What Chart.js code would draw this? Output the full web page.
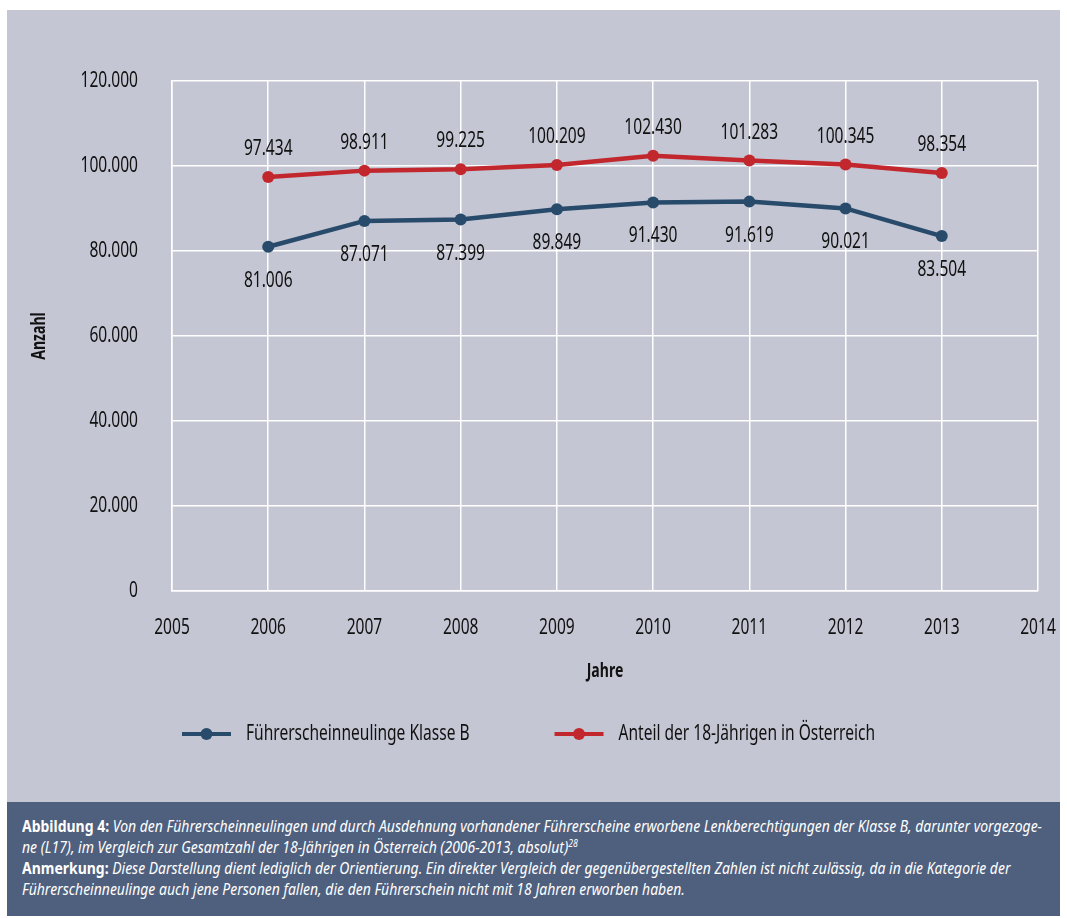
<!DOCTYPE html>
<html><head><meta charset="utf-8">
<script src="https://cdn.jsdelivr.net/npm/chart.js@4.4.1/dist/chart.umd.min.js"></script>
<style>
html,body{margin:0;padding:0;background:#fff;}
#panel{position:absolute;left:7px;top:10px;width:1053px;height:792px;background:#c4c6d3;}
#cap{position:absolute;left:7px;top:802px;width:1053px;height:114px;background:#4f5f7e;color:#fff;
 font-family:"Noto Sans","DejaVu Sans",sans-serif;font-size:16px;line-height:21px;
 box-sizing:border-box;padding:14px 0 0 15px;overflow:hidden;}
#cap .ln{white-space:nowrap;transform-origin:0 50%;display:block;width:max-content;}
#cap i{font-style:italic;}
#cap b{font-weight:bold;}
</style></head>
<body>
<div id="panel"><canvas id="c" width="1053" height="792"></canvas></div>
<div id="cap">
<span class="ln"><b>Abbildung 4:</b> <i>Von den Führerscheinneulingen und durch Ausdehnung vorhandener Führerscheine erworbene Lenkberechtigungen der Klasse B, darunter vorgezoge-</i></span>
<span class="ln"><i>ne (L17), im Vergleich zur Gesamtzahl der 18-Jährigen in Österreich (2006-2013, absolut)<sup style="font-size:10px;line-height:0">28</sup></i></span>
<span class="ln"><b>Anmerkung:</b> <i>Diese Darstellung dient lediglich der Orientierung. Ein direkter Vergleich der gegenübergestellten Zahlen ist nicht zulässig, da in die Kategorie der</i></span>
<span class="ln"><i>Führerscheinneulinge auch jene Personen fallen, die den Führerschein nicht mit 18 Jahren erworben haben.</i></span>
</div>
<script>
const years = [2006, 2007, 2008, 2009, 2010, 2011, 2012, 2013];
const fuehrerscheinneulinge = [81006, 87071, 87399, 89849, 91430, 91619, 90021, 83504];
const anteil18 = [97434, 98911, 99225, 100209, 102430, 101283, 100345, 98354];
const seriesNames = ['Führerscheinneulinge Klasse B', 'Anteil der 18-Jährigen in Österreich'];
const xRange = [2005, 2014];
const yRange = [0, 120000];
const yStep = 20000;

const FONT = '"Noto Sans","DejaVu Sans",sans-serif';
const BLUE = '#284a6b';
const RED = '#c1272d';
const CONDENSE = 0.74;

// condensed caption lines: first line fills the same width as in the original figure
(function () {
  const lines = document.querySelectorAll('#cap .ln');
  const k = 1020 / lines[0].getBoundingClientRect().width;
  lines.forEach(l => { l.style.transform = 'scaleX(' + k + ')'; });
})();

function fmt(v) {
  return String(Math.round(v)).replace(/\B(?=(\d{3})+(?!\d))/g, '.');
}
function pts(arr) { return years.map((y, i) => ({x: y, y: arr[i]})); }

// renders every canvas text horizontally condensed (the figure uses a condensed typeface)
const condense = {
  id: 'condense',
  beforeInit(chart) {
    const ctx = chart.ctx;
    const fill = ctx.fillText.bind(ctx);
    const measure = ctx.measureText.bind(ctx);
    ctx.fillText = function (t, x, y, mw) {
      ctx.save();
      ctx.translate(x, y);
      ctx.scale(CONDENSE, 1);
      if (mw !== undefined && mw !== null) fill(t, 0, 0, mw / CONDENSE); else fill(t, 0, 0);
      ctx.restore();
    };
    ctx.measureText = function (t) {
      const m = measure(t);
      return {
        width: m.width * CONDENSE,
        actualBoundingBoxAscent: m.actualBoundingBoxAscent,
        actualBoundingBoxDescent: m.actualBoundingBoxDescent,
        actualBoundingBoxLeft: m.actualBoundingBoxLeft * CONDENSE,
        actualBoundingBoxRight: m.actualBoundingBoxRight * CONDENSE
      };
    };
  }
};

const dataLabels = {
  id: 'dataLabels',
  afterDatasetsDraw(chart) {
    const ctx = chart.ctx;
    ctx.save();
    ctx.font = '21px ' + FONT;
    ctx.fillStyle = '#111';
    ctx.textAlign = 'center';
    ctx.textBaseline = 'middle';
    chart.data.datasets.forEach((ds, di) => {
      const meta = chart.getDatasetMeta(di);
      meta.data.forEach((p, i) => {
        ctx.fillText(fmt(ds.data[i].y), p.x, p.y + ds.labelOffset);
      });
    });
    ctx.restore();
  }
};

const customLegend = {
  id: 'customLegend',
  afterDraw(chart) {
    const ctx = chart.ctx;
    ctx.save();
    ctx.font = '21px ' + FONT;
    ctx.textBaseline = 'middle';
    const mw = 49, gap = 15, between = 85;
    const items = chart.data.datasets.map(ds => ({t: ds.label, c: ds.borderColor, w: ctx.measureText(ds.label).width}));
    let total = 0;
    items.forEach((it, i) => { total += mw + gap + it.w + (i ? between : 0); });
    let x = chart.width / 2 - 5 - total / 2;
    const y = chart.chartArea.bottom + 143;
    items.forEach((it, i) => {
      if (i) x += between;
      ctx.strokeStyle = it.c; ctx.lineWidth = 4;
      ctx.beginPath(); ctx.moveTo(x, y); ctx.lineTo(x + mw, y); ctx.stroke();
      ctx.fillStyle = it.c;
      ctx.beginPath(); ctx.arc(x + mw / 2, y, 6, 0, Math.PI * 2); ctx.fill();
      ctx.fillStyle = '#111';
      ctx.textAlign = 'left';
      ctx.fillText(it.t, x + mw + gap, y);
      x += mw + gap + it.w;
    });
    ctx.restore();
  }
};

new Chart(document.getElementById('c'), {
  type: 'line',
  data: {
    datasets: [
      {label: seriesNames[0], data: pts(fuehrerscheinneulinge), borderColor: BLUE, backgroundColor: BLUE,
       pointBackgroundColor: BLUE, pointBorderWidth: 0, pointRadius: 6, borderWidth: 4.5, labelOffset: 34},
      {label: seriesNames[1], data: pts(anteil18), borderColor: RED, backgroundColor: RED,
       pointBackgroundColor: RED, pointBorderWidth: 0, pointRadius: 6, borderWidth: 4.5, labelOffset: -28}
    ]
  },
  options: {
    responsive: false,
    animation: false,
    devicePixelRatio: 1,
    layout: {padding: {top: 71, right: 22, bottom: 115, left: 0}},
    plugins: {legend: {display: false}, tooltip: {enabled: false}},
    scales: {
      x: {
        type: 'linear', min: xRange[0], max: xRange[1],
        afterFit: s => { s.height = 96; s.paddingLeft = 0; s.paddingRight = 0; },
        ticks: {stepSize: 1, callback: v => String(v), font: {family: FONT, size: 21}, color: '#111', padding: 24, maxRotation: 0},
        grid: {color: '#ffffff', lineWidth: 1.5, drawTicks: false},
        border: {color: '#ffffff', width: 1.5},
        title: {display: true, text: 'Jahre', font: {family: FONT, size: 19, weight: 'bold'}, color: '#111', padding: {top: 0, bottom: 4}}
      },
      y: {
        min: yRange[0], max: yRange[1],
        afterFit: s => { s.width = 165; },
        ticks: {stepSize: yStep, callback: v => fmt(v), font: {family: FONT, size: 21}, color: '#111', padding: 34},
        grid: {color: '#ffffff', lineWidth: 1.5, drawTicks: false},
        border: {color: '#ffffff', width: 1.5},
        title: {display: true, text: 'Anzahl', font: {family: FONT, size: 19, weight: 'bold'}, color: '#111', padding: {top: 21, bottom: 0}}
      }
    }
  },
  plugins: [condense, dataLabels, customLegend]
});
</script>
</body></html>
